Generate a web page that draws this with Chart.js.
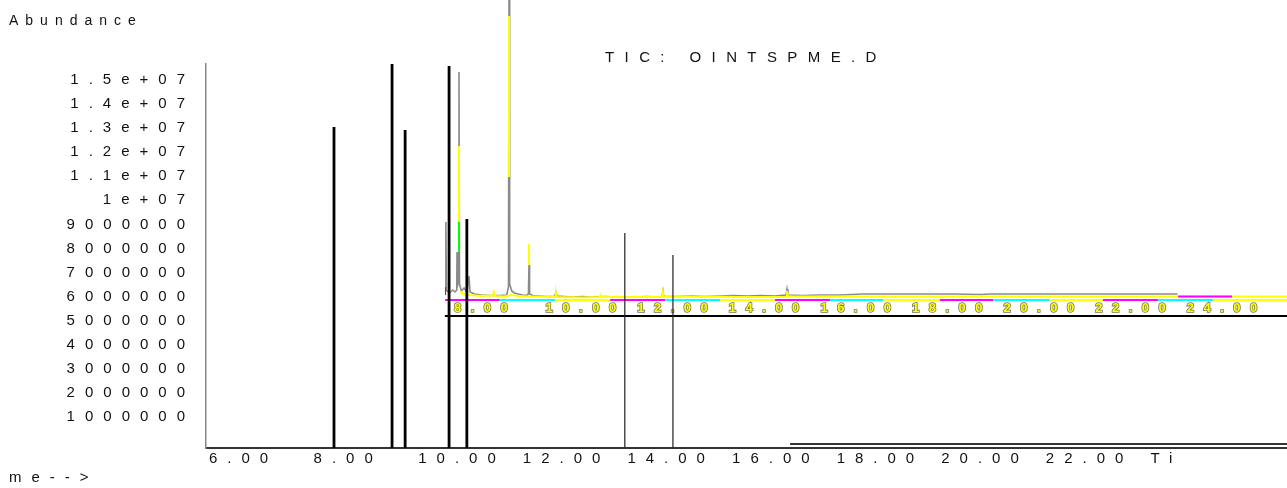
<!DOCTYPE html>
<html>
<head>
<meta charset="utf-8">
<script src="https://cdn.jsdelivr.net/npm/chart.js@4/dist/chart.umd.min.js"></script>
<style>
  body { margin: 0; background: #fff; overflow: hidden; }
  #wrap { position: relative; width: 1287px; height: 488px; }
  #inset { position: absolute; left: 445px; top: 0; z-index: 1; }
  #main { position: absolute; left: 0; top: 0; z-index: 2; }
  .txt { position: absolute; font-family: "Liberation Sans", Arial, sans-serif; color: #111; white-space: pre; z-index: 3; }
</style>
</head>
<body>
<div id="wrap">
  <canvas id="inset" width="842" height="316"></canvas>
  <canvas id="main" width="1287" height="488"></canvas>
  <div class="txt" style="left:9px; top:12px; font-size:14px; line-height:16px; letter-spacing:7px;">Abundance</div>
  <div class="txt" style="left:605px; top:48px; font-size:15px; line-height:17px; letter-spacing:10.4px;">TIC: OINTSPME.D</div>
  <div class="txt" style="left:9px; top:468px; font-size:15px; line-height:17px; letter-spacing:10px;">me--&gt;</div>
</div>
<script>
// main axis ticks
const xTickValues = [6, 8, 10, 12, 14, 16, 18, 20, 22, 24];
const xTickLabels = ['6.00', '8.00', '10.00', '12.00', '14.00', '16.00', '18.00', '20.00', '22.00', 'Ti'];
const yTickValues = [1e6, 2e6, 3e6, 4e6, 5e6, 6e6, 7e6, 8e6, 9e6, 1e7, 1.1e7, 1.2e7, 1.3e7, 1.4e7, 1.5e7];
const yTickLabels = ['1000000', '2000000', '3000000', '4000000', '5000000', '6000000', '7000000',
  '8000000', '9000000', '1e+07', '1.1e+07', '1.2e+07', '1.3e+07', '1.4e+07', '1.5e+07'];

// main chromatogram: [time, abundance]
const thickPeaks = [[8.39, 13.05e6], [9.50, 15.8e6], [9.75, 12.92e6], [10.59, 15.58e6], [10.93, 9.22e6]];
const thinPeaks = [[13.95, 8.64e6], [14.87, 7.73e6]];
const peakBase = -290000;
const lowerRule = [[17.11, -125000], [26.7, -125000]];
const insetRule = [[10.51, 5.19e6], [26.7, 5.19e6]];

// inset chromatogram (overlaid traces)
const insetTickValues = [8, 10, 12, 14, 16, 18, 20, 22, 24];
const insetTickLabels = ['8.00', '10.00', '12.00', '14.00', '16.00', '18.00', '20.00', '22.00', '24.00'];

const grayTrace = [
  [7.80, 0.9e6], [7.82, 0.9e6], [7.825, 7.8e6], [7.835, 1.0e6], [7.90, 0.7e6], [7.97, 1.0e6],
  [8.02, 0.8e6], [8.06, 1.0e6], [8.066, 4.8e6], [8.075, 1.4e6], [8.10, 1.8e6], [8.109, 22.8e6],
  [8.12, 1.6e6], [8.16, 0.9e6], [8.22, 1.2e6], [8.28, 0.8e6], [8.328, 2.4e6], [8.35, 0.8e6],
  [8.45, 0.6e6], [8.60, 0.5e6], [8.80, 0.45e6], [9.00, 0.45e6], [9.15, 0.5e6], [9.19, 1.3e6],
  [9.201, 31e6], [9.215, 1.6e6], [9.26, 0.9e6], [9.32, 0.7e6], [9.40, 0.6e6], [9.50, 0.5e6],
  [9.58, 0.45e6], [9.625, 0.6e6], [9.638, 3.5e6], [9.65, 0.6e6], [9.72, 0.45e6], [9.85, 0.4e6],
  [10.0, 0.35e6], [10.2, 0.35e6], [10.227, 0.8e6], [10.25, 0.4e6], [10.4, 0.35e6], [10.6, 0.3e6],
  [10.8, 0.35e6], [11.0, 0.3e6], [11.3, 0.35e6], [11.6, 0.3e6], [11.9, 0.3e6], [12.2, 0.35e6],
  [12.54, 0.3e6], [12.563, 0.9e6], [12.58, 0.35e6], [12.9, 0.35e6], [13.2, 0.4e6], [13.5, 0.35e6],
  [13.8, 0.4e6], [14.1, 0.45e6], [14.4, 0.4e6], [14.7, 0.45e6], [15.0, 0.4e6], [15.25, 0.5e6],
  [15.271, 1.1e6], [15.29, 0.5e6], [15.6, 0.45e6], [16.0, 0.5e6], [16.4, 0.5e6], [16.7, 0.55e6],
  [16.9, 0.6e6], [17.5, 0.6e6], [18.2, 0.6e6], [18.9, 0.6e6], [19.5, 0.55e6], [19.7, 0.6e6],
  [20.2, 0.6e6], [20.8, 0.6e6], [21.4, 0.6e6], [22.0, 0.6e6], [22.6, 0.6e6], [23.2, 0.6e6], [23.8, 0.6e6]
];
const yellowTrace = [
  [8.13, 0.9e6], [8.20, 0.6e6], [8.35, 0.5e6], [8.60, 0.4e6], [8.85, 0.45e6], [8.873, 0.8e6],
  [8.90, 0.4e6], [9.10, 0.35e6], [9.25, 0.5e6], [9.40, 0.4e6], [9.60, 0.35e6], [9.80, 0.35e6],
  [10.0, 0.3e6], [10.21, 0.3e6], [10.227, 0.7e6], [10.245, 0.3e6], [10.8, 0.25e6], [11.18, 0.3e6],
  [11.2, 0.5e6], [11.22, 0.3e6], [12.0, 0.3e6], [12.54, 0.3e6], [12.56, 0.8e6], [12.58, 0.3e6],
  [13.5, 0.35e6], [14.2, 0.3e6], [15.25, 0.3e6], [15.27, 0.9e6], [15.29, 0.35e6], [16.5, 0.35e6],
  [18.0, 0.35e6], [20.0, 0.35e6], [22.0, 0.35e6], [24.0, 0.35e6], [26.2, 0.35e6]
];
const yellowSegments = [[8.109, 7.8e6, 15.4e6], [9.201, 12.3e6, 28.4e6], [9.638, 3.5e6, 5.6e6]];
const greenSegments = [[8.109, 4.8e6, 7.8e6]];
const redSegments = [[7.805, 0.5e6, 1.3e6]];
const magentaUpper = [[23.81, 0.35e6], [24.99, 0.35e6]];

const baselineTimes = [7.80, 9.00, 10.21, 11.41, 12.61, 13.81, 15.01, 16.21, 17.37, 18.61, 19.77, 21.01, 22.17, 23.37, 24.57, 26.2];
const baselineColors = ['#ff00ff', '#00ffff', '#ffff00', '#ff00ff', '#00ffff', '#ffff00', '#ff00ff', '#00ffff',
  '#ffff00', '#ff00ff', '#00ffff', '#ffff00', '#ff00ff', '#00ffff', '#ffff00'];
const baselineLevel = 0.0e6;

function pts(list) {
  return list.map(p => ({x: p[0], y: p[1]}));
}

// vertical sticks, separated by gaps
function sticks(list, base) {
  const out = [];
  list.forEach(p => {
    const lo = p.length > 2 ? p[1] : base;
    const hi = p.length > 2 ? p[2] : p[1];
    out.push({x: p[0], y: lo}, {x: p[0], y: hi}, {x: p[0], y: null});
  });
  return out;
}

function spacing(px) {
  return {
    id: 'spacing',
    beforeLayout(chart) { chart.ctx.letterSpacing = px; },
    beforeDraw(chart) { chart.ctx.letterSpacing = px; }
  };
}

const font = {family: '"Liberation Sans", Arial, sans-serif'};

function line(data, color, width, extra) {
  return Object.assign({
    data: data,
    borderColor: color,
    borderWidth: width,
    pointRadius: 0,
    tension: 0,
    spanGaps: false,
    borderCapStyle: 'butt'
  }, extra || {});
}

// inset chart (drawn under the main one)
new Chart(document.getElementById('inset'), {
  type: 'line',
  data: {
    datasets: [
      line(pts(baselineTimes.map(t => [t, baselineLevel])), '#ff00ff', 2, {
        order: 0,
        segment: { borderColor: ctx => baselineColors[ctx.p0DataIndex] }
      }),
      line(pts(magentaUpper), '#ff00ff', 2, {order: 1}),
      line(sticks(redSegments), '#ff0000', 2, {order: 2}),
      line(sticks(greenSegments), '#00ff00', 2, {order: 2}),
      line(sticks(yellowSegments), '#ffff00', 2, {order: 2}),
      line(pts(yellowTrace), '#ffff00', 2, {order: 3}),
      line(pts(grayTrace), '#8a8a8a', 1.6, {order: 4})
    ]
  },
  options: {
    responsive: false,
    animation: false,
    events: [],
    layout: {padding: 0},
    plugins: {legend: {display: false}, tooltip: {enabled: false}},
    scales: {
      x: {
        type: 'linear',
        min: 7.8035,
        max: 26.188,
        offset: false,
        grid: {display: false, drawTicks: false},
        border: {display: false},
        afterBuildTicks: axis => { axis.ticks = insetTickValues.map(v => ({value: v})); },
        afterFit: axis => { axis.height = 15; },
        ticks: {
          align: 'start',
          padding: 0,
          color: '#ffff00',
          textStrokeColor: '#77775a',
          textStrokeWidth: 1.6,
          font: Object.assign({size: 13, weight: 'bold'}, font),
          callback: (v, i) => insetTickLabels[i]
        }
      },
      y: {
        type: 'linear',
        display: false,
        min: -0.1e6,
        max: 3.0e7
      }
    }
  },
  plugins: [spacing('9.5px')]
});

// main chart
new Chart(document.getElementById('main'), {
  type: 'line',
  data: {
    datasets: [
      line(sticks(thickPeaks, peakBase), '#000000', 2.8),
      line(sticks(thinPeaks, peakBase), '#222222', 1.2),
      line(pts(lowerRule), '#333333', 2),
      line(pts(insetRule), '#000000', 2)
    ]
  },
  options: {
    responsive: false,
    animation: false,
    events: [],
    layout: {padding: {top: 64, bottom: 20, left: 0, right: 0}},
    plugins: {legend: {display: false}, tooltip: {enabled: false}},
    scales: {
      x: {
        type: 'linear',
        min: 5.943,
        max: 26.61,
        grid: {display: false, drawTicks: false},
        border: {display: true, color: '#333333', width: 2},
        afterBuildTicks: axis => { axis.ticks = xTickValues.map(v => ({value: v})); },
        afterFit: axis => { axis.height = 20; },
        ticks: {
          align: 'start',
          padding: 2,
          color: '#111',
          font: Object.assign({size: 15}, font),
          callback: (v, i) => xTickLabels[i]
        }
      },
      y: {
        type: 'linear',
        min: -290000,
        max: 15665000,
        grid: {display: false, drawTicks: false},
        border: {display: true, color: '#888888', width: 1.5},
        afterBuildTicks: axis => { axis.ticks = yTickValues.map(v => ({value: v})); },
        afterFit: axis => { axis.width = 206; },
        ticks: {
          padding: 11,
          color: '#111',
          font: Object.assign({size: 15}, font),
          callback: (v, i) => yTickLabels[i]
        }
      }
    }
  },
  plugins: [spacing('10px')]
});
</script>
</body>
</html>
